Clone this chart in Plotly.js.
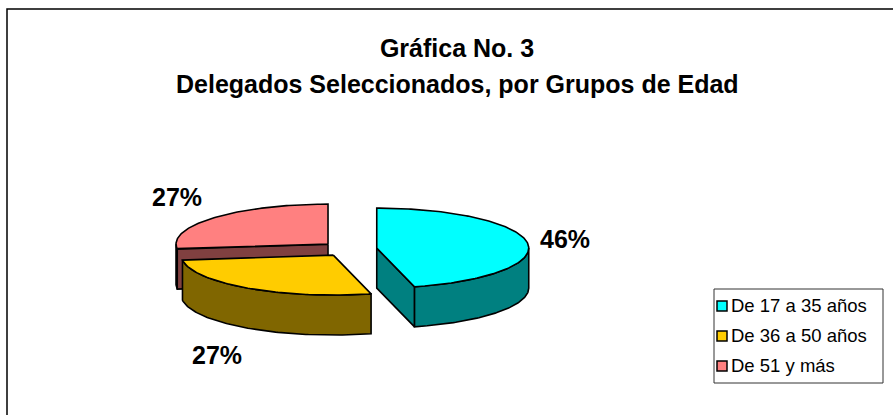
<!DOCTYPE html>
<html>
<head>
<meta charset="utf-8">
<script src="https://cdn.plot.ly/plotly-3.0.1.min.js"></script>
<style>html,body{margin:0;padding:0;background:#fff;}#chart{width:893px;height:415px;}</style>
</head>
<body>
<div id="chart"></div>
<script>
// ---- data ----
var categories = ["De 17 a 35 años", "De 36 a 50 años", "De 51 y más"];
var values = [46, 27, 27];
var topColors = ["#00FFFF", "#FFCC00", "#FF8080"];
var sideColors = ["#008080", "#806600", "#804040"];
var titleLine1 = "Gráfica No. 3";
var titleLine2 = "Delegados Seleccionados, por Grupos de Edad";

// ---- geometry (layout, in pixel units of the axes) ----
var CX = 349, CY = 249, RA = 152, RB = 40, DEPTH = 40, EXPLODE = 0.184;
var START = 90; // degrees, clockwise
var FONT = "Liberation Sans, Arial, sans-serif";
var labelPos = [[565, 239], [217, 355], [177, 197]];
var LEG_BOX = [714, 289, 883, 383];
var LEG_ICON_X = 717, LEG_Y0 = 306, LEG_STEP = 30, LEG_ICON = 10;

var total = values.reduce(function(s, v){ return s + v; }, 0);
var rad = Math.PI / 180;

function pt(cx, cy, deg, dz) {
  return [cx + RA * Math.cos(deg * rad), cy - RB * Math.sin(deg * rad) + (dz || 0)];
}
function arc(cx, cy, a0, a1, dz) {
  var pts = [], n = Math.max(2, Math.ceil(Math.abs(a1 - a0)));
  for (var i = 0; i <= n; i++) pts.push(pt(cx, cy, a0 + (a1 - a0) * i / n, dz));
  return pts;
}
function poly(pts, fill, name) {
  var xs = pts.map(function(p){ return p[0]; });
  var ys = pts.map(function(p){ return p[1]; });
  xs.push(xs[0]); ys.push(ys[0]);
  return {type: "scatter", mode: "lines", x: xs, y: ys, fill: "toself",
          fillcolor: fill, line: {color: "#000", width: 1.6},
          hoverinfo: "skip", showlegend: false, name: name};
}

var slices = [], cum = 0;
values.forEach(function(v, i) {
  var hi = START - 360 * cum / total;
  cum += v;
  var lo = START - 360 * cum / total;
  var mid = (hi + lo) / 2;
  var cx = CX + EXPLODE * RA * Math.cos(mid * rad);
  var cy = CY - EXPLODE * RB * Math.sin(mid * rad);
  slices.push({i: i, hi: hi, lo: lo, mid: mid, cx: cx, cy: cy});
});
// back to front
var order = slices.slice().sort(function(a, b){ return Math.sin(b.mid * rad) - Math.sin(a.mid * rad); });

var traces = [];
order.forEach(function(s) {
  var side = sideColors[s.i], top = topColors[s.i], nm = categories[s.i];
  if (Math.cos(s.hi * rad) < -1e-6) {
    var p = pt(s.cx, s.cy, s.hi);
    traces.push(poly([[s.cx, s.cy], p, [p[0], p[1] + DEPTH], [s.cx, s.cy + DEPTH]], side, nm));
  }
  if (Math.cos(s.lo * rad) > 1e-6) {
    var q = pt(s.cx, s.cy, s.lo);
    traces.push(poly([[s.cx, s.cy], q, [q[0], q[1] + DEPTH], [s.cx, s.cy + DEPTH]], side, nm));
  }
  for (var k = -2; k <= 1; k++) {
    var f0 = -180 + 360 * k, f1 = 0 + 360 * k;
    var a0 = Math.max(s.lo, f0), a1 = Math.min(s.hi, f1);
    if (a1 - a0 > 0.01) {
      var topArc = arc(s.cx, s.cy, a0, a1, 0);
      var botArc = arc(s.cx, s.cy, a1, a0, DEPTH);
      traces.push(poly(topArc.concat(botArc), side, nm));
    }
  }
  var face = [[s.cx, s.cy]].concat(arc(s.cx, s.cy, s.hi, s.lo, 0));
  traces.push(poly(face, top, nm));
});

// legend entries (text from the legend; swatches drawn in the legend box below)
categories.forEach(function(c, i) {
  traces.push({type: "scatter", mode: "markers", x: [null], y: [null], name: c,
    legendgroup: "g" + i,
    marker: {symbol: "square", size: 0, color: "rgba(0,0,0,0)", line: {width: 0, color: "rgba(0,0,0,0)"}},
    hoverinfo: "skip"});
});

var annotations = values.map(function(v, i) {
  return {x: labelPos[i][0], y: labelPos[i][1], xref: "x", yref: "y",
          text: "<b>" + Math.round(v / total * 100) + "%</b>", showarrow: false,
          font: {family: FONT, size: 25, color: "#000"}, xanchor: "center", yanchor: "middle"};
});
annotations.push({x: 457, y: 84, xref: "x", yref: "y", text: "<b>" + titleLine2 + "</b>",
  showarrow: false, font: {family: FONT, size: 25, color: "#000"}, xanchor: "center", yanchor: "middle"});

var shapes = [{type: "rect", xref: "x", yref: "y", x0: 7, y0: 9, x1: 905, y1: 425,
               line: {color: "#000", width: 1.5}, layer: "below"},
              {type: "rect", xref: "x", yref: "y", x0: LEG_BOX[0], y0: LEG_BOX[1], x1: LEG_BOX[2], y1: LEG_BOX[3],
               line: {color: "#333", width: 1}, fillcolor: "#fff", layer: "above"}];
categories.forEach(function(c, i) {
  var yc = LEG_Y0 + i * LEG_STEP;
  shapes.push({type: "rect", xref: "x", yref: "y", x0: LEG_ICON_X, x1: LEG_ICON_X + LEG_ICON,
               y0: yc - LEG_ICON / 2, y1: yc + LEG_ICON / 2,
               fillcolor: topColors[i], line: {color: "#000", width: 1.5}, layer: "above"});
});

var layout = {
  width: 893, height: 415,
  margin: {l: 0, r: 0, t: 0, b: 0, pad: 0},
  paper_bgcolor: "#fff", plot_bgcolor: "#fff",
  title: {text: "<b>" + titleLine1 + "</b>", x: 457 / 893, xanchor: "center",
          y: 1 - 48 / 415, yanchor: "middle", yref: "container",
          font: {family: FONT, size: 25, color: "#000"}},
  xaxis: {range: [0, 893], visible: false, fixedrange: true},
  yaxis: {range: [415, 0], visible: false, fixedrange: true},
  showlegend: true,
  legend: {x: 691 / 893, y: 1 - 286 / 415, xanchor: "left", yanchor: "top",
           bgcolor: "rgba(0,0,0,0)", borderwidth: 0,
           font: {family: FONT, size: 18.5, color: "#000"},
           tracegroupgap: 3, itemwidth: 30},
  annotations: annotations,
  shapes: shapes
};

Plotly.newPlot("chart", traces, layout, {displayModeBar: false, staticPlot: true});
</script>
</body>
</html>
